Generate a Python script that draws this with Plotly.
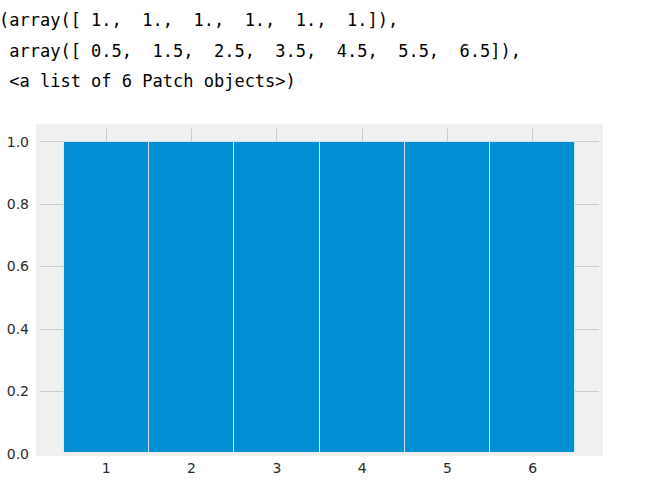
import plotly.graph_objects as go

# ---- data ----
counts = [1.0, 1.0, 1.0, 1.0, 1.0, 1.0]
bin_edges = [0.5, 1.5, 2.5, 3.5, 4.5, 5.5, 6.5]
x_ticks = [1, 2, 3, 4, 5, 6]
y_ticks = [0.0, 0.2, 0.4, 0.6, 0.8, 1.0]
n_patches = 6

centers = [(a + b) / 2 for a, b in zip(bin_edges[:-1], bin_edges[1:])]
widths = [b - a for a, b in zip(bin_edges[:-1], bin_edges[1:])]

NB = "\u00a0"
line1 = "(array([" + ", ".join(f"{NB}{c:.0f}." for c in counts) + "]),"
line2 = NB + "array([" + ", ".join(f"{NB}{e:.1f}" for e in bin_edges) + "]),"
line3 = NB + f"&lt;a list of {n_patches} Patch objects&gt;)"
line1 = line1.replace(" ", NB)
line2 = line2.replace(" ", NB)
line3 = line3.replace(" ", NB)

W, H = 647, 487
L, R, T, B = 38, 601, 126, 454
pw, ph = R - L, B - T

fig = go.Figure()
fig.add_trace(go.Bar(
    x=centers, y=counts, width=widths,
    marker=dict(color="#008fd5", line=dict(color="rgba(230,245,255,0.8)", width=1)),
    showlegend=False, hoverinfo="skip",
))

fig.update_layout(
    width=W, height=H,
    margin=dict(l=L, r=W - R, t=T, b=H - B, pad=0, autoexpand=False),
    paper_bgcolor="white",
    plot_bgcolor="#f0f0f0",
    bargap=0,
    font=dict(family="DejaVu Sans", size=14, color="#2b2b2b"),
    xaxis=dict(
        range=[0.2, 6.8], tickvals=x_ticks, ticktext=[str(v) for v in x_ticks],
        showgrid=True, gridcolor="#cbcbcb", gridwidth=1, automargin=False,
        zeroline=False, showline=False, ticks="", ticklabelstandoff=4,
        tickfont=dict(size=14, color="#2b2b2b"),
    ),
    yaxis=dict(
        range=[0, 1.05], tickvals=y_ticks, ticktext=[f"{v:.1f}" for v in y_ticks],
        showgrid=True, gridcolor="#cbcbcb", gridwidth=1, automargin=False,
        zeroline=False, showline=False, ticks="", ticklabelstandoff=8,
        tickfont=dict(size=14, color="#2b2b2b"),
    ),
    shapes=[dict(
        type="rect", xref="paper", yref="paper", x0=0, x1=1, y0=0, y1=1,
        line=dict(color="#f0f0f0", width=4), fillcolor="rgba(0,0,0,0)", layer="above",
    )],
)

for txt, py in [(line1, 20), (line2, 51), (line3, 81)]:
    fig.add_annotation(
        text=txt, xref="paper", yref="paper",
        x=(-2 - L) / pw, y=(B - py) / ph,
        xanchor="left", yanchor="middle", showarrow=False,
        font=dict(family="DejaVu Sans Mono", size=17, color="black"),
        borderpad=0,
    )

fig.write_html("out.html")
